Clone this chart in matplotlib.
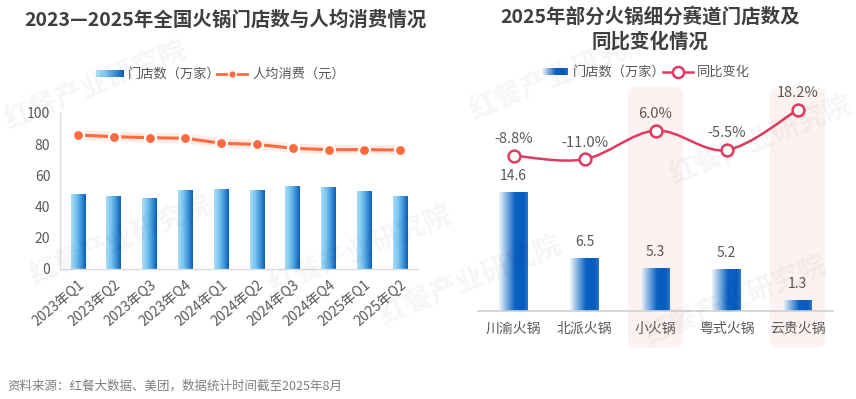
import numpy as np
import matplotlib
matplotlib.use('Agg')
import matplotlib.pyplot as plt
from matplotlib.colors import LinearSegmentedColormap
from matplotlib.patches import FancyBboxPatch, PathPatch
from matplotlib.path import Path
import matplotlib.transforms as mtransforms

plt.rcParams['font.family'] = ['Noto Sans CJK SC', 'DejaVu Sans']

# ---------------- data ----------------
quarters = ['2023年Q1', '2023年Q2', '2023年Q3', '2023年Q4', '2024年Q1',
            '2024年Q2', '2024年Q3', '2024年Q4', '2025年Q1', '2025年Q2']
store_counts = [47.9, 46.6, 45.7, 50.6, 51.1, 50.6, 53.2, 52.4, 50.2, 47.0]
per_capita = [85.9, 84.8, 84.2, 83.8, 80.6, 79.9, 77.4, 76.5, 76.5, 76.3]

segments = ['川渝火锅', '北派火锅', '小火锅', '粤式火锅', '云贵火锅']
segment_stores = [14.6, 6.5, 5.3, 5.2, 1.3]
segment_yoy = [-8.8, -11.0, 6.0, -5.5, 18.2]
highlighted = ['小火锅', '云贵火锅']

left_title = '2023—2025年全国火锅门店数与人均消费情况'
right_title = ['2025年部分火锅细分赛道门店数及', '同比变化情况']
source = '资料来源：红餐大数据、美团，数据统计时间截至2025年8月'

# ---------------- style ----------------
W, H = 856, 399
TXT = '#595959'
TITLE = '#3f3f3f'
ORANGE = '#ff6b3d'
CRIMSON = '#e03a60'
cmap_left = LinearSegmentedColormap.from_list('l', ['#a9ddf7', '#7cc6f0', '#3f97dc', '#0b5db8'])
cmap_right = LinearSegmentedColormap.from_list('r', [(0, '#f2f7fc'), (0.55, '#0a62c2'), (0.85, '#075bbd'), (1, '#2a78cc')])

fig = plt.figure(figsize=(W / 100, H / 100), dpi=100)


def rect(x0, ytop, w, h):
    return [x0 / W, 1 - (ytop + h) / H, w / W, h / H]


def gradient_bars(ax, bars, cmap):
    grad = np.linspace(0, 1, 256).reshape(1, -1)
    for b in bars:
        x, y, w, h = b.get_x(), b.get_y(), b.get_width(), b.get_height()
        im = ax.imshow(grad, cmap=cmap, extent=[x, x + w, y, y + h], aspect='auto',
                       zorder=b.get_zorder(), interpolation='bicubic')
        im.set_clip_path(b)
        b.set_facecolor('none')
        b.set_edgecolor('none')


def smooth_path(xs, ys):
    pts = np.column_stack([xs, ys]).astype(float)
    n = len(pts)
    verts = [pts[0]]
    codes = [Path.MOVETO]
    for i in range(n - 1):
        p0 = pts[max(i - 1, 0)]
        p1 = pts[i]
        p2 = pts[i + 1]
        p3 = pts[min(i + 2, n - 1)]
        c1 = p1 + (p2 - p0) / 6.0
        c2 = p2 - (p3 - p1) / 6.0
        verts += [c1, c2, p2]
        codes += [Path.CURVE4] * 3
    return Path(verts, codes)


# ---------------- left chart ----------------
ax1 = fig.add_axes(rect(60, 113, 358, 156))
ax1.set_facecolor('none')
xq = np.arange(len(quarters))
bars1 = ax1.bar(xq, store_counts, width=0.41, zorder=2)
gradient_bars(ax1, bars1, cmap_left)
ax1.plot(xq, per_capita, color=ORANGE, lw=7, alpha=0.13, solid_capstyle='round', zorder=3)
ax1.plot(xq, per_capita, color=ORANGE, lw=2.2, marker='o', ms=8, mfc=ORANGE,
         mec='white', mew=1.6, zorder=4)
ax1.set_xlim(-0.5, len(quarters) - 0.5)
ax1.set_ylim(0, 100)
ax1.set_yticks(np.arange(0, 101, 20))
ax1.set_xticks(xq)
ax1.set_xticklabels(quarters, rotation=40, ha='right', rotation_mode='anchor')
ax1.tick_params(axis='both', length=0, labelsize=10, labelcolor=TXT)
ax1.tick_params(axis='x', pad=6)
ax1.tick_params(axis='y', pad=7)
for s in ['top', 'right']:
    ax1.spines[s].set_visible(False)
for s in ['left', 'bottom']:
    ax1.spines[s].set_color('#dcdcdc')
    ax1.spines[s].set_linewidth(1)

# ---------------- right chart ----------------
ax2 = fig.add_axes(rect(478, 87, 355, 223.7))
ax2.set_facecolor('none')
xs = np.arange(len(segments))
bars2 = ax2.bar(xs, segment_stores, width=0.40, zorder=2)
gradient_bars(ax2, bars2, cmap_right)
ax2.set_xlim(-0.5, len(segments) - 0.5)
ax2.set_ylim(0, 27.6)
ax2.set_yticks([])
ax2.set_xticks(xs)
ax2.set_xticklabels(segments)
ax2.tick_params(axis='x', length=0, labelsize=10, labelcolor=TXT, pad=8)
for s in ['top', 'right', 'left']:
    ax2.spines[s].set_visible(False)
ax2.spines['bottom'].set_color('#d0d0d0')
ax2.spines['bottom'].set_linewidth(1.2)
for i, v in enumerate(segment_stores):
    ax2.annotate(f'{v:.1f}', (i, v), xytext=(0, 11.5), textcoords='offset points',
                 ha='center', va='center', fontsize=10, color=TXT)

# highlight boxes (pink), in display pixel coordinates
ax2_top = ax2.transAxes.transform((0, 1.0))[1]
ax2_bot = ax2.transAxes.transform((0, 0.0))[1]
for name in highlighted:
    i = segments.index(name)
    xl = ax2.transData.transform((i - 0.39, 0))[0]
    xr = ax2.transData.transform((i + 0.39, 0))[0]
    ybot = ax2_bot - 37
    p = FancyBboxPatch((xl, ybot), xr - xl, ax2_top - ybot,
                       boxstyle='round,pad=0,rounding_size=9',
                       transform=mtransforms.IdentityTransform(),
                       fc='#fdf1f1', ec='none', zorder=0.5, clip_on=False)
    ax2.add_patch(p)

ax3 = ax2.twinx()
ax3.set_ylim(-100.6, 31.8)
ax3.axis('off')
ax3.add_patch(PathPatch(smooth_path(xs, segment_yoy), fc='none', ec=CRIMSON, lw=1.8, zorder=3))
ax3.plot(xs, segment_yoy, ls='none', marker='o', ms=8.5, mfc='white', mec=CRIMSON, mew=1.8, zorder=4)
for i, v in enumerate(segment_yoy):
    ax3.annotate(f'{v:.1f}%', (i, v), xytext=(0, 12), textcoords='offset points',
                 ha='center', va='center', fontsize=10.5, color=TXT)

# ---------------- titles, legends, source ----------------
fig.text(225.5 / W, 1 - 20 / H, left_title, ha='center', va='center', fontsize=14,
         fontweight='bold', color=TITLE)
fig.text(650 / W, 1 - 17 / H, right_title[0], ha='center', va='center', fontsize=14,
         fontweight='bold', color=TITLE)
fig.text(650 / W, 1 - 42 / H, right_title[1], ha='center', va='center', fontsize=14,
         fontweight='bold', color=TITLE)
fig.text(7 / W, 1 - 386.5 / H, source, ha='left', va='center', fontsize=9, color='#7f7f7f')

lg = fig.add_axes([0, 0, 1, 1])
lg.patch.set_alpha(0)
lg.axis('off')
grad = np.linspace(0, 1, 256).reshape(1, -1)
lg.imshow(grad, cmap=cmap_left, extent=[96, 124, 77, 70], aspect='auto')
lg.imshow(grad, cmap=cmap_right, extent=[542, 568, 75.5, 68.5], aspect='auto')
lg.plot([217, 247], [74, 74], color=ORANGE, lw=2)
lg.plot([232], [74], marker='o', ms=5.5, color=ORANGE, mec='white', mew=1)
lg.plot([663, 693], [72, 72], color=CRIMSON, lw=1.8)
lg.plot([678], [72], marker='o', ms=8, mfc='white', mec=CRIMSON, mew=1.8)
lg.text(128, 74, '门店数（万家）', ha='left', va='center', fontsize=9.5, color=TXT)
lg.text(252, 74, '人均消费（元）', ha='left', va='center', fontsize=9.5, color=TXT)
lg.text(573, 72, '门店数（万家）', ha='left', va='center', fontsize=9.5, color=TXT)
lg.text(697, 72, '同比变化', ha='left', va='center', fontsize=9.5, color=TXT)

# faint watermarks
for (wx, wy) in [(95, 85), (120, 240), (360, 250), (560, 75), (760, 140), (735, 300), (470, 280)]:
    lg.text(wx, wy, '红餐产业研究院', ha='center', va='center', fontsize=20, rotation=22,
            color='#000000', alpha=0.04, fontweight='bold')

lg.set_xlim(0, W)
lg.set_ylim(H, 0)

fig.savefig('out.png', dpi=100)
